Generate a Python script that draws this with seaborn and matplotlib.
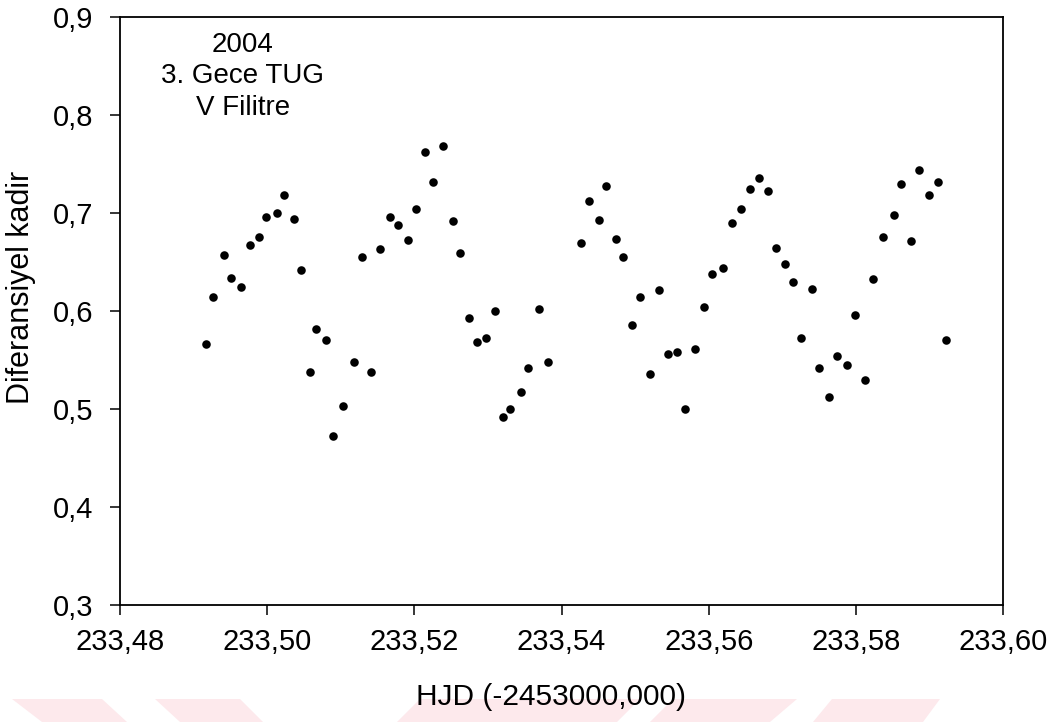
import matplotlib
matplotlib.use("Agg")
import matplotlib.pyplot as plt
import matplotlib.ticker as mticker
from matplotlib.patches import Polygon
import seaborn as sns
import pandas as pd

hjd = [233.4917, 233.4927, 233.4941, 233.4951, 233.4964, 233.4976, 233.4989, 233.4999,
       233.5013, 233.5023, 233.5036, 233.5046, 233.5058, 233.5067, 233.5080, 233.5089,
       233.5103, 233.5118, 233.5129, 233.5141, 233.5153, 233.5167, 233.5178, 233.5191,
       233.5202, 233.5215, 233.5226, 233.5239, 233.5252, 233.5262, 233.5274, 233.5285,
       233.5298, 233.5309, 233.5320, 233.5330, 233.5345, 233.5355, 233.5369, 233.5382,
       233.5426, 233.5437, 233.5451, 233.5461, 233.5474, 233.5484, 233.5496, 233.5507,
       233.5520, 233.5532, 233.5545, 233.5557, 233.5568, 233.5581, 233.5594, 233.5605,
       233.5619, 233.5632, 233.5644, 233.5656, 233.5668, 233.5681, 233.5691, 233.5704,
       233.5714, 233.5726, 233.5740, 233.5750, 233.5764, 233.5774, 233.5788, 233.5799,
       233.5812, 233.5823, 233.5837, 233.5852, 233.5862, 233.5875, 233.5886, 233.5899,
       233.5911, 233.5923]
mag = [0.566, 0.614, 0.657, 0.634, 0.624, 0.667, 0.676, 0.696,
       0.700, 0.718, 0.694, 0.642, 0.538, 0.582, 0.570, 0.472,
       0.503, 0.548, 0.655, 0.538, 0.663, 0.696, 0.688, 0.672,
       0.704, 0.762, 0.732, 0.768, 0.692, 0.659, 0.593, 0.568,
       0.572, 0.600, 0.492, 0.500, 0.517, 0.542, 0.602, 0.548,
       0.669, 0.712, 0.693, 0.728, 0.673, 0.655, 0.586, 0.614,
       0.536, 0.621, 0.556, 0.558, 0.500, 0.561, 0.604, 0.638,
       0.644, 0.690, 0.704, 0.724, 0.736, 0.722, 0.664, 0.648,
       0.630, 0.572, 0.622, 0.542, 0.512, 0.554, 0.545, 0.596,
       0.530, 0.633, 0.676, 0.698, 0.730, 0.671, 0.744, 0.718,
       0.732, 0.570]

x_ticks = [233.48, 233.50, 233.52, 233.54, 233.56, 233.58, 233.60]
y_ticks = [0.3, 0.4, 0.5, 0.6, 0.7, 0.8, 0.9]
annotation_lines = ["2004", "3. Gece TUG", "V Filitre"]
x_label = "HJD (-2453000,000)"
y_label = "Diferansiyel kadir"

df = pd.DataFrame({"hjd": hjd, "mag": mag})

sns.set_style("ticks")
plt.rcParams["font.family"] = ["Liberation Sans", "DejaVu Sans"]

fig = plt.figure(figsize=(10.63, 7.22), dpi=100)
ax = fig.add_axes([0.1129, 0.162, 0.8307, 0.8145])

# faint watermark stripes at the bottom of the page
wm = [
    [(12, 699), (102, 699), (127, 722), (42, 722)],
    [(155, 699), (240, 699), (263, 722), (180, 722)],
    [(420, 699), (640, 699), (617, 722), (397, 722)],
    [(673, 699), (797, 699), (770, 722), (650, 722)],
    [(832, 699), (940, 699), (923, 722), (813, 722)],
]
for poly in wm:
    pts = [(px / 1063, 1 - py / 722) for px, py in poly]
    fig.patches.append(Polygon(pts, closed=True, transform=fig.transFigure,
                               facecolor="#fde9ec", edgecolor="none", zorder=-5))

sns.scatterplot(data=df, x="hjd", y="mag", ax=ax, color="black", s=38,
                linewidth=0, legend=False, zorder=3)

ax.set_xlim(233.48, 233.60)
ax.set_ylim(0.3, 0.9)
ax.set_xticks(x_ticks)
ax.set_yticks(y_ticks)
ax.xaxis.set_major_formatter(mticker.FuncFormatter(lambda v, p: f"{v:.2f}".replace(".", ",")))
ax.yaxis.set_major_formatter(mticker.FuncFormatter(lambda v, p: f"{v:.1f}".replace(".", ",")))

for sp in ax.spines.values():
    sp.set_visible(True)
    sp.set_color("black")
    sp.set_linewidth(1.3)

ax.tick_params(axis="both", which="major", direction="out", length=7.5, width=1.1,
               color="black", labelsize=21, labelcolor="black",
               bottom=True, left=True, top=False, right=False)
ax.tick_params(axis="y", pad=12)
ax.tick_params(axis="x", pad=9)
ax.patch.set_alpha(0)

ax.set_xlabel(x_label, fontsize=21.5, color="black")
ax.set_ylabel(y_label, fontsize=22, color="black")
ax.xaxis.set_label_coords(0.488, -0.133)
ax.yaxis.set_label_coords(-0.095, 0.54)

ax.text(0.139, 0.975, "\n".join(annotation_lines), transform=ax.transAxes,
        ha="center", va="top", fontsize=20, color="black", linespacing=1.28)

fig.savefig("out.png", dpi=100)
